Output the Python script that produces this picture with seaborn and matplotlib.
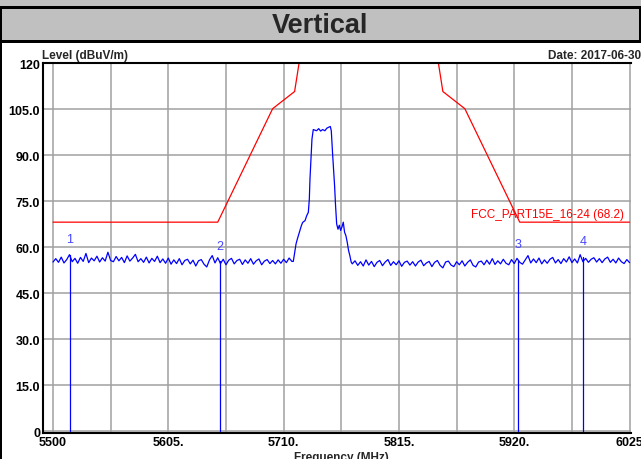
import numpy as np
import pandas as pd
import matplotlib
matplotlib.use("Agg")
import matplotlib.pyplot as plt
import seaborn as sns
from matplotlib.patches import Rectangle

# FCC part 15E limit line (dBuV/m)
limit_freq = [5500, 5650, 5700, 5720, 5725, 5850, 5855, 5875, 5925, 6025]
limit_level = [68.2, 68.2, 105.2, 110.8, 122.2, 122.2, 110.8, 105.2, 68.2, 68.2]

# measured trace, noise floor below the carrier (2.5 MHz steps from 5500)
left_start = 5500.0
left_step = 2.5
left_levels = [
    55.2, 56.3, 55.1, 56.8, 54.9, 56.0, 57.6, 55.3, 56.4, 54.8,
    56.7, 55.4, 58.0, 55.0, 56.5, 55.6, 57.1, 55.2, 56.6, 55.5,
    58.4, 55.7, 55.3, 57.0, 55.6, 56.7, 55.0, 57.2, 55.5, 56.5,
    57.7, 55.3, 56.3, 55.1, 56.8, 54.9, 56.4, 55.4, 57.1, 55.0,
    56.2, 54.8, 56.5, 54.5, 55.9, 54.7, 56.3, 54.3, 55.7, 56.1,
    54.6, 55.8, 53.9, 55.6, 56.0, 54.5, 53.6, 55.9, 57.3, 54.9,
    56.6, 54.7, 56.1, 54.3, 55.8, 56.4, 54.6, 55.7, 56.1, 54.4,
    55.9, 54.8, 56.3, 54.5, 55.6, 56.2, 54.3, 55.5, 56.0, 54.7,
    55.7, 54.6, 55.9, 54.8, 56.1, 55.0, 56.5, 55.4,
]

# carrier
sig_freq = [5718.8, 5720.1, 5721.3, 5722.5, 5724.3, 5726.1, 5727.3, 5729.5,
            5731.0, 5732.5, 5733.4, 5734.0, 5734.9, 5735.8, 5737.0, 5740.0,
            5741.9, 5743.7, 5745.5, 5747.6, 5749.2, 5750.7, 5752.5, 5753.4,
            5754.0, 5754.6, 5755.5, 5756.4, 5757.3, 5758.3, 5759.5, 5760.7,
            5761.9, 5763.1, 5764.3, 5765.5, 5766.7, 5767.9, 5769.1, 5770.3,
            5771.5]
sig_level = [55.4, 58.4, 61.1, 62.7, 64.9, 67.0, 68.1, 68.7,
             70.3, 71.4, 75.7, 82.3, 88.8, 95.3, 98.4, 98.0,
             98.7, 97.9, 98.4, 98.0, 98.8, 99.1, 99.4, 98.0,
             94.2, 90.4, 85.5, 80.1, 73.5, 67.6, 65.9, 67.2,
             65.5, 66.6, 68.2, 64.9, 63.8, 61.7, 59.0, 57.3,
             55.2]

# noise floor above the carrier
right_start = 5772.5
right_step = 2.5
right_levels = [
    54.6, 55.6, 54.1, 55.3, 53.9, 55.9, 54.2, 55.4, 53.7, 55.1,
    55.7, 54.0, 55.2, 56.0, 54.1, 55.3, 54.3, 55.6, 53.8, 55.1,
    55.5, 54.2, 55.3, 53.9, 55.2, 55.8, 54.0, 54.9, 55.4, 53.7,
    55.1, 55.7, 54.1, 53.3, 55.2, 55.5, 54.2, 53.7, 55.3, 54.3,
    55.6, 53.9, 55.1, 55.9, 54.1, 53.6, 55.2, 55.5, 54.3, 55.8,
    54.5, 56.3, 54.4, 55.6, 54.6, 56.1, 54.8, 54.3, 56.0, 54.7,
    56.4, 55.1, 54.5, 55.9, 57.3, 54.9, 56.2, 55.0, 56.5, 54.6,
    55.9, 54.8, 56.1, 56.7, 54.9, 56.0, 54.7, 56.3, 55.2, 56.9,
    55.0, 56.2, 54.9, 57.6, 55.3, 56.4, 55.1, 56.1, 56.6, 55.2,
    56.3, 55.0, 56.2, 56.8, 55.1, 56.1, 54.9, 56.5, 55.3, 54.7,
    56.0, 55.0,
]

# markers
marker_names = ["1", "2", "3", "4"]
marker_freq = [5515.5, 5652.0, 5923.7, 5982.6]
marker_level = [57.4, 55.4, 55.9, 57.0]

x_ticks = [5500 + 52.5 * k for k in range(11)]
x_ticklabels = ["5500", "", "5605.", "", "5710.", "", "5815.", "", "5920.", "", "6025"]
y_ticks = [0, 15, 30, 45, 60, 75, 90, 105, 120]
y_ticklabels = ["0", "15.0", "30.0", "45.0", "60.0", "75.0", "90.0", "105.0", "120"]

limit_label = "FCC_PART15E_16-24 (68.2)"

left_freq = left_start + left_step * np.arange(len(left_levels))
right_freq = right_start + right_step * np.arange(len(right_levels))
trace = pd.DataFrame({
    "freq": np.concatenate([left_freq, sig_freq, right_freq]),
    "level": np.concatenate([left_levels, sig_level, right_levels]),
})
limit = pd.DataFrame({"freq": limit_freq, "level": limit_level})

sns.set_theme(style="white")
plt.rcParams["font.family"] = ["Liberation Sans", "DejaVu Sans"]

W, H = 641, 460
fig = plt.figure(figsize=(W / 100, H / 100), dpi=100)

# header banner
fig.patches.append(Rectangle((0, 1 - 44 / H), 1, 44 / H, transform=fig.transFigure,
                             facecolor="#c0c0c0", edgecolor="none", zorder=0))
fig.patches.append(Rectangle((0, 1 - 10 / H), 1, 3 / H, transform=fig.transFigure,
                             facecolor="black", edgecolor="none", zorder=1))
fig.patches.append(Rectangle((0, 1 - 44 / H), 1, 3 / H, transform=fig.transFigure,
                             facecolor="black", edgecolor="none", zorder=1))
fig.patches.append(Rectangle((0, 0), 2 / W, 1 - 7 / H, transform=fig.transFigure,
                             facecolor="black", edgecolor="none", zorder=1))
fig.patches.append(Rectangle((1 - 2 / W, 1 - 44 / H), 2 / W, 37 / H, transform=fig.transFigure,
                             facecolor="black", edgecolor="none", zorder=1))
fig.text(320 / W, 1 - 26 / H, "Vertical", ha="center", va="center",
         fontsize=19.5, fontweight="bold")

ax = fig.add_axes([43 / W, 26 / H, 588 / W, 369.7 / H])
ax.set_xlim(5490.9, 6026.3)
ax.set_ylim(-0.55, 120)

sns.lineplot(data=limit, x="freq", y="level", ax=ax, color="red", lw=0.9,
             estimator=None, sort=False)
sns.lineplot(data=trace, x="freq", y="level", ax=ax, color="blue", lw=0.9,
             estimator=None, sort=False)

for name, f, lv in zip(marker_names, marker_freq, marker_level):
    ax.plot([f, f], [0, lv], color="blue", lw=0.9)
    ax.text(f, lv + 3.2, name, color="#4646ff", fontsize=9, ha="center", va="bottom")

ax.text(6019.9, 70.9, limit_label, color="red", fontsize=8.5, ha="right", va="center")

ax.set_xticks(x_ticks)
ax.set_xticklabels(x_ticklabels)
ax.set_yticks(y_ticks)
ax.set_yticklabels(y_ticklabels)
ax.tick_params(length=0, labelsize=9, pad=2, labelcolor="black")
for lab in ax.get_xticklabels() + ax.get_yticklabels():
    lab.set_fontweight("bold")
ax.grid(True, color="#a0a0a0", lw=1.1)
ax.set_axisbelow(True)
ax.set_xlabel("")
ax.set_ylabel("")
for side in ["left", "bottom", "top"]:
    ax.spines[side].set_color("black")
    ax.spines[side].set_linewidth(1.5)
ax.spines["right"].set_visible(False)

fig.text(42 / W, 1 - 56 / H, "Level (dBuV/m)", ha="left", va="center",
         fontsize=8.5, fontweight="bold")
fig.text(1.0, 1 - 56 / H, "Date: 2017-06-30", ha="right", va="center",
         fontsize=8.5, fontweight="bold")
# cut by the lower edge, as in the reference
fig.text(341 / W, 1 - 452 / H, "Frequency (MHz)", ha="center", va="top",
         fontsize=8.5, fontweight="bold")

fig.savefig("out.png", dpi=100)
